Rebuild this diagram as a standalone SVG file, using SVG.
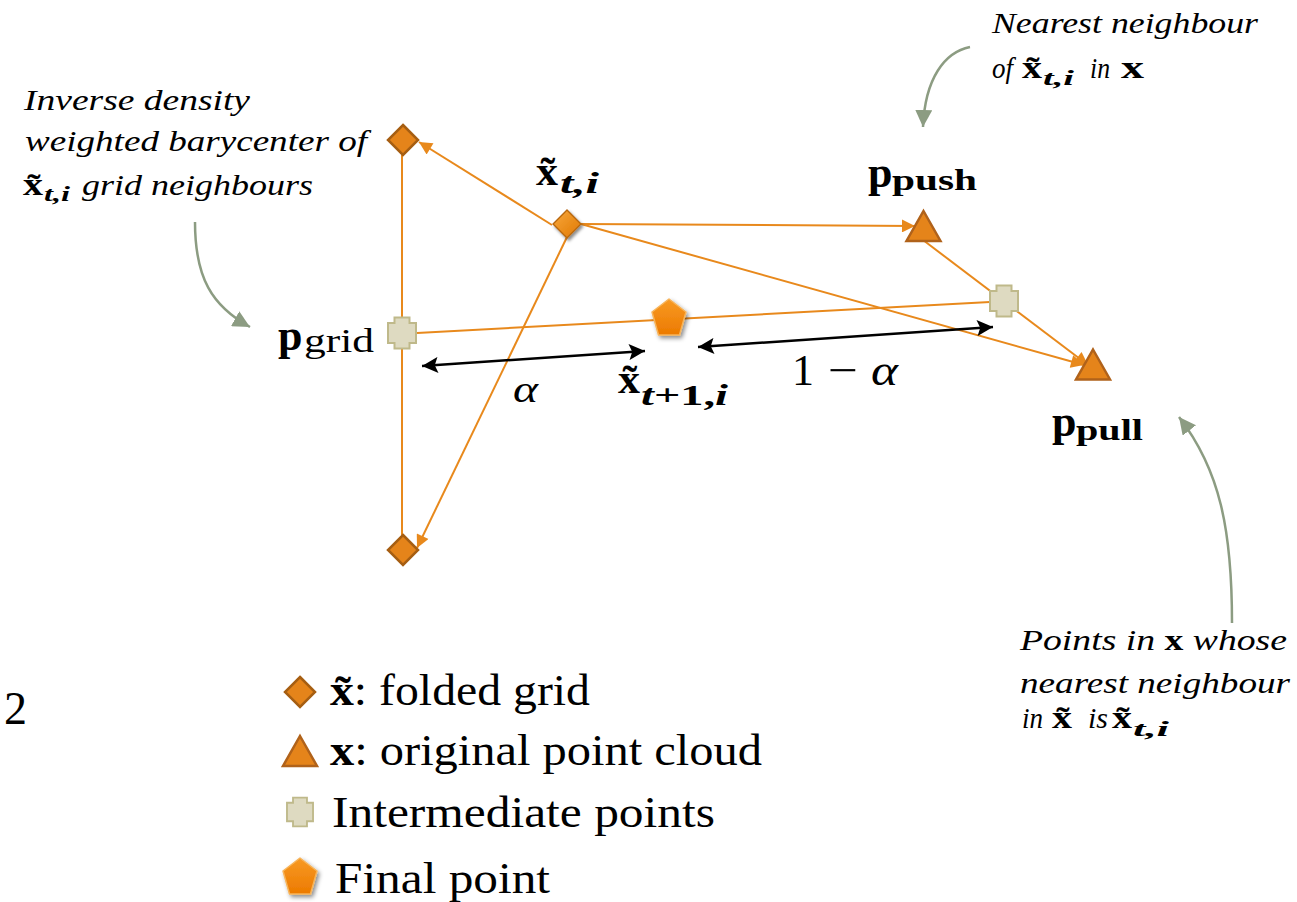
<svg xmlns="http://www.w3.org/2000/svg" width="1297" height="902" viewBox="0 0 1297 902">
<style>
.ln{stroke:#E8891C;stroke-width:2;fill:none}
.dbl{stroke:#000;stroke-width:2.5;fill:none}
.gr{stroke:#8C9C82;stroke-width:2.5;fill:none}
.dia{fill:#E5841A;stroke:#A65E12;stroke-width:2.5}
.tri{fill:#E5841A;stroke:#B0621A;stroke-width:2.5;stroke-linejoin:miter}
.crs{fill:#DEDAC1;stroke:#BFB98A;stroke-width:2}
text{font-family:"Liberation Serif","Times New Roman",Tinos,Times,serif;fill:#000}
.ann{font-style:italic;font-size:29px}
.b{font-weight:bold}
.bi{font-weight:bold;font-style:italic}
.up{font-style:normal}
.lbl{font-weight:bold}
.leg{font-size:45px}
</style>
<defs>
<marker id="oa" viewBox="0 0 10 10" refX="10" refY="5" markerWidth="15" markerHeight="13" markerUnits="userSpaceOnUse" orient="auto"><path d="M0,0 L10,5 L0,10 z" fill="#E8891C"/></marker>
<marker id="ba" viewBox="0 0 10 10" refX="10" refY="5" markerWidth="18" markerHeight="16" markerUnits="userSpaceOnUse" orient="auto-start-reverse"><path d="M0,0 L10,5 L0,10 L2,5 z" fill="#000"/></marker>
<marker id="ga" viewBox="0 0 10 10" refX="10" refY="5" markerWidth="17" markerHeight="17" markerUnits="userSpaceOnUse" orient="auto"><path d="M0,0 L10,5 L0,10 z" fill="#8C9C82"/></marker>
<filter id="sh" x="-50%" y="-50%" width="200%" height="200%"><feDropShadow dx="2" dy="2.5" stdDeviation="2" flood-color="#000" flood-opacity="0.45"/></filter>
<linearGradient id="gd" x1="0" y1="0" x2="1" y2="1"><stop offset="0" stop-color="#F8A83E"/><stop offset="1" stop-color="#E07800"/></linearGradient>
<linearGradient id="gp" x1="0" y1="0" x2="0" y2="1"><stop offset="0" stop-color="#F89A24"/><stop offset="1" stop-color="#EC7A00"/></linearGradient>
<path id="diamond" d="M0,-15 L15,0 L0,15 L-15,0 Z"/>
<path id="triangle" d="M0,-15 L17,15 L-17,15 Z"/>
<path id="cross" d="M-7.5,-15.5 H7.5 V-10 H14 V10 H7.5 V15.5 H-7.5 V10 H-14 V-10 H-7.5 Z"/>
<path id="penta" d="M0,-19 L17,-6 L10.5,17 L-10.5,17 L-17,-6 Z"/>
</defs>

<g id="connectors">
<line class="ln" x1="402" y1="155" x2="402" y2="535"/>
<line class="ln" x1="552" y1="225" x2="419" y2="142" marker-end="url(#oa)"/>
<line class="ln" x1="567" y1="237" x2="417" y2="548" marker-end="url(#oa)"/>
<line class="ln" x1="581" y1="224" x2="915" y2="226" marker-end="url(#oa)"/>
<line class="ln" x1="581" y1="224" x2="1084" y2="365" marker-end="url(#oa)"/>
<line class="ln" x1="923" y1="240" x2="1088" y2="365" marker-end="url(#oa)"/>
<line class="ln" x1="417" y1="333" x2="990" y2="302"/>
<line class="dbl" x1="422" y1="366" x2="645" y2="351" marker-start="url(#ba)" marker-end="url(#ba)"/>
<line class="dbl" x1="698" y1="347" x2="993" y2="327" marker-start="url(#ba)" marker-end="url(#ba)"/>
<path class="gr" d="M195,222 C195,278 212,306 250,327" marker-end="url(#ga)"/>
<path class="gr" d="M970,47 C945,52 925,78 923,127" marker-end="url(#ga)"/>
<path class="gr" d="M1232,623 C1232,530 1220,470 1179,417" marker-end="url(#ga)"/>
</g>

<g id="grid-top"><use href="#diamond" class="dia" x="403" y="140"/></g>
<g id="grid-bottom"><use href="#diamond" class="dia" x="403" y="550"/></g>
<g id="x-t-i">
<use href="#diamond" x="567" y="224" fill="url(#gd)" stroke="#B86810" stroke-width="1.5" filter="url(#sh)" transform="translate(567,224) scale(0.93) translate(-567,-224)"/>
<text class="lbl" x="536" y="185" font-size="42"><tspan textLength="22" lengthAdjust="spacingAndGlyphs">x̃</tspan><tspan class="bi" x="560" y="193" font-size="30" textLength="39" lengthAdjust="spacingAndGlyphs">t,i</tspan></text>
</g>
<g id="p-push">
<use href="#triangle" class="tri" x="923.5" y="226"/>
<text class="lbl" x="868" y="187" font-size="44">p<tspan x="892" y="190" font-size="30" textLength="85" lengthAdjust="spacingAndGlyphs">push</tspan></text>
</g>
<g id="p-pull">
<use href="#triangle" class="tri" x="1093" y="364.5"/>
<text class="lbl" x="1052" y="436" font-size="44">p<tspan x="1076" y="440" font-size="30" textLength="67" lengthAdjust="spacingAndGlyphs">pull</tspan></text>
</g>
<g id="p-grid">
<use href="#cross" class="crs" x="402" y="333"/>
<text class="lbl" x="278" y="350" font-size="44">p<tspan x="304" y="352" font-size="34" font-weight="normal" textLength="70" lengthAdjust="spacingAndGlyphs">grid</tspan></text>
</g>
<g id="intermediate"><use href="#cross" class="crs" x="1004" y="301"/></g>
<g id="x-t1-i">
<use href="#penta" x="669" y="318" fill="url(#gp)" stroke="#F7B45A" stroke-width="1.5" stroke-linejoin="round" filter="url(#sh)"/>
<text class="lbl" x="618" y="393" font-size="42"><tspan textLength="22" lengthAdjust="spacingAndGlyphs">x̃</tspan><tspan x="641" y="405" font-size="30" textLength="87" lengthAdjust="spacingAndGlyphs"><tspan class="bi">t</tspan>+1,<tspan class="bi">i</tspan></tspan></text>
</g>
<g id="alpha"><text x="513" y="402" font-style="italic" font-size="38" textLength="25" lengthAdjust="spacingAndGlyphs">α</text></g>
<g id="one-minus-alpha"><text y="385" font-size="44"><tspan x="792">1</tspan><tspan x="828" textLength="30" lengthAdjust="spacingAndGlyphs">−</tspan><tspan x="871" font-style="italic" textLength="27" lengthAdjust="spacingAndGlyphs">α</tspan></text></g>

<g id="note-grid">
<text class="ann" x="24" y="110" textLength="226" lengthAdjust="spacingAndGlyphs">Inverse density</text>
<text class="ann" x="25" y="151" textLength="342" lengthAdjust="spacingAndGlyphs">weighted barycenter of</text>
<text class="ann" x="23" y="195"><tspan class="b up" font-size="31" textLength="20" lengthAdjust="spacingAndGlyphs">x̃</tspan><tspan class="bi" x="44" y="201" font-size="22" textLength="26" lengthAdjust="spacingAndGlyphs">t,i</tspan></text>
<text class="ann" x="82" y="195" textLength="231" lengthAdjust="spacingAndGlyphs">grid neighbours</text>
</g>
<g id="note-push">
<text class="ann" x="992" y="33" textLength="266" lengthAdjust="spacingAndGlyphs">Nearest neighbour</text>
<text class="ann" y="78"><tspan x="992" textLength="21" lengthAdjust="spacingAndGlyphs">of</tspan><tspan class="b up" x="1022" font-size="31" textLength="20" lengthAdjust="spacingAndGlyphs">x̃</tspan><tspan class="bi" x="1043" y="85" font-size="22" textLength="31" lengthAdjust="spacingAndGlyphs">t,i</tspan><tspan x="1090" y="78" textLength="20" lengthAdjust="spacingAndGlyphs">in</tspan><tspan class="b up" x="1121" font-size="31" textLength="23" lengthAdjust="spacingAndGlyphs">x</tspan></text>
</g>
<g id="note-pull">
<text class="ann" x="1020" y="650" textLength="267" lengthAdjust="spacingAndGlyphs">Points in <tspan class="b up">x</tspan> whose</text>
<text class="ann" x="1020" y="693" textLength="270" lengthAdjust="spacingAndGlyphs">nearest neighbour</text>
<text class="ann" y="728"><tspan x="1022" textLength="21" lengthAdjust="spacingAndGlyphs">in</tspan><tspan class="b up" x="1052" font-size="31" textLength="20" lengthAdjust="spacingAndGlyphs">x̃</tspan><tspan x="1088" textLength="20" lengthAdjust="spacingAndGlyphs">is</tspan><tspan class="b up" x="1112" font-size="31" textLength="20" lengthAdjust="spacingAndGlyphs">x̃</tspan><tspan class="bi" x="1133" y="736" font-size="22" textLength="36" lengthAdjust="spacingAndGlyphs">t,i</tspan></text>
</g>

<g id="page-number"><text x="4" y="724" font-size="46">2</text></g>

<g id="legend">
<use href="#diamond" class="dia" x="300" y="692"/>
<text class="leg" x="330" y="705" textLength="260" lengthAdjust="spacingAndGlyphs"><tspan class="b">x̃</tspan>: folded grid</text>
<use href="#triangle" class="tri" x="300" y="751"/>
<text class="leg" x="330" y="765" textLength="432" lengthAdjust="spacingAndGlyphs"><tspan class="b">x</tspan>: original point cloud</text>
<use href="#cross" class="crs" x="300" y="812" transform="translate(300,812) scale(0.93) translate(-300,-812)"/>
<text class="leg" x="332" y="827" textLength="383" lengthAdjust="spacingAndGlyphs">Intermediate points</text>
<use href="#penta" x="300" y="877" fill="url(#gp)" stroke="#F7B45A" stroke-width="1.5" stroke-linejoin="round" filter="url(#sh)"/>
<text class="leg" x="335" y="893" textLength="215" lengthAdjust="spacingAndGlyphs">Final point</text>
</g>
</svg>
